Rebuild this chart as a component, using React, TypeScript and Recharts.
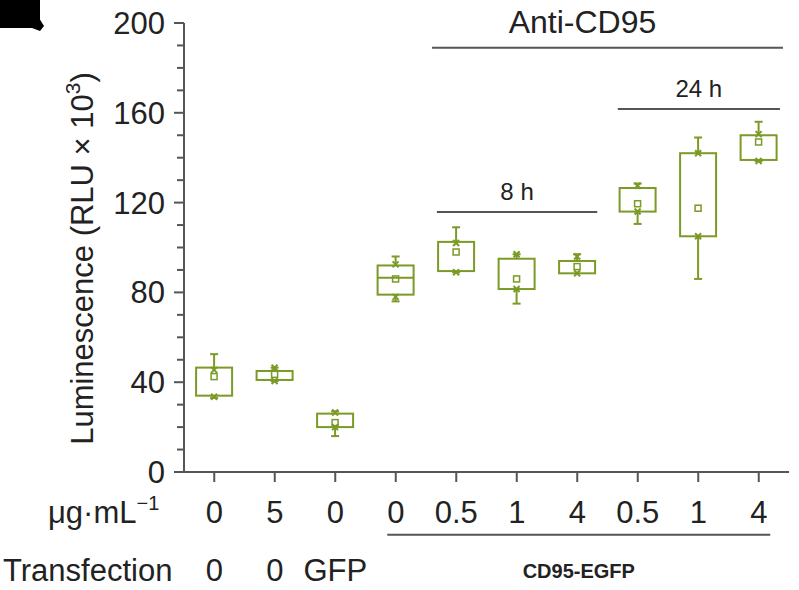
import { ComposedChart, Bar, XAxis, YAxis, ReferenceLine } from 'recharts'

const GREEN = '#7b9a26'
const AXIS = '#555555'
const INK = '#222222'
const FONT = '"Liberation Sans", Arial, Helvetica, sans-serif'

// dose per group (µg/mL) and transfection row
const doses = ['0', '5', '0', '0', '0.5', '1', '4', '0.5', '1', '4']
const transfection = ['0', '0', 'GFP', '', '', '', '', '', '', '']

// box statistics, RLU x 10^3
const whiskerLow = [33, 40.5, 16, 76, 89, 75, 88.5, 110.5, 86, 138.5]
const boxLow = [34, 41, 20, 79, 89.5, 81.5, 88.5, 116, 105, 139]
const median: (number | null)[] = [null, null, null, 86.5, null, null, null, null, null, null]
const mean = [42.5, 43.5, 22, 86, 98, 86, 91.5, 119.5, 117.5, 147]
const boxHigh = [46.5, 45, 26, 92, 102.5, 95, 94, 126.5, 142, 150]
const whiskerHigh = [52.5, 46.5, 27, 96, 109, 97, 97, 128.5, 149, 156]
const minMark = [33.5, 40.5, 20, 78, 89, 81.5, 88.5, 116, 105, 138.5]
const maxMark = [45.5, 46.5, 26.5, 92.5, 102, 97, 96, 127.5, 142, 150.5]

const yTicks = [0, 10, 20, 30, 40, 50, 60, 70, 80, 90, 100, 110, 120, 130, 140, 150, 160, 170, 180, 190, 200]

const data = doses.map((d, i) => ({
  id: `g${i}`,
  pos: i,
  dose: d,
  transfection: transfection[i],
  whiskerLow: whiskerLow[i],
  boxLow: boxLow[i],
  median: median[i],
  mean: mean[i],
  boxHigh: boxHigh[i],
  whiskerHigh: whiskerHigh[i],
  minMark: minMark[i],
  maxMark: maxMark[i],
}))

// bar runs 0..whiskerHigh, so its rect gives us the y scale
function BoxShape(props: any) {
  const { x, y, width, height, payload } = props
  if (!payload || !height) return null
  const top = payload.whiskerHigh
  const py = (v: number) => y + height * (1 - v / top)
  const cx = x + width / 2
  const bTop = py(payload.boxHigh)
  const bBot = py(payload.boxLow)
  const wTop = py(payload.whiskerHigh)
  const wBot = py(payload.whiskerLow)
  const cap = 4
  const mk = 3
  const cross = (v: number, k: string) => {
    const cy = py(v)
    return (
      <g key={k}>
        <line x1={cx - mk} x2={cx + mk} y1={cy - mk} y2={cy + mk} stroke={GREEN} strokeWidth={2} />
        <line x1={cx - mk} x2={cx + mk} y1={cy + mk} y2={cy - mk} stroke={GREEN} strokeWidth={2} />
      </g>
    )
  }
  return (
    <g>
      <rect x={x} y={bTop} width={width} height={bBot - bTop} fill="none" stroke={GREEN} strokeWidth={2} />
      {wTop < bTop - 1 && (
        <g>
          <line x1={cx} x2={cx} y1={wTop} y2={bTop} stroke={GREEN} strokeWidth={2} />
          <line x1={cx - cap} x2={cx + cap} y1={wTop} y2={wTop} stroke={GREEN} strokeWidth={2} />
        </g>
      )}
      {wBot > bBot + 1 && (
        <g>
          <line x1={cx} x2={cx} y1={bBot} y2={wBot} stroke={GREEN} strokeWidth={2} />
          <line x1={cx - cap} x2={cx + cap} y1={wBot} y2={wBot} stroke={GREEN} strokeWidth={2} />
        </g>
      )}
      {payload.median != null && (
        <line x1={x} x2={x + width} y1={py(payload.median)} y2={py(payload.median)} stroke={GREEN} strokeWidth={2} />
      )}
      <rect x={cx - 3} y={py(payload.mean) - 3} width={6} height={6} fill="none" stroke={GREEN} strokeWidth={1.5} />
      {cross(payload.maxMark, 'max')}
      {cross(payload.minMark, 'min')}
    </g>
  )
}

function XTick(props: any) {
  const { x, y, payload } = props
  const row = data.find((d) => d.id === payload.value)
  if (!row) return null
  return (
    <g>
      <line x1={x} x2={x} y1={y} y2={y + 10} stroke={AXIS} strokeWidth={2} />
      <text x={x} y={y + 51} textAnchor="middle" fontSize={31} fill={INK}>{row.dose}</text>
      {row.transfection && (
        <text x={x} y={y + 109} textAnchor="middle" fontSize={31} fill={INK}>{row.transfection}</text>
      )}
    </g>
  )
}

function YTick(props: any) {
  const { x, y, payload } = props
  const v = payload.value
  const major = v % 40 === 0
  return (
    <g>
      <line x1={x - (major ? 10 : 7)} x2={x} y1={y} y2={y} stroke={AXIS} strokeWidth={2} />
      {major && (
        <text x={x - 19} y={y + 11} textAnchor="end" fontSize={31} fill={INK}>{v}</text>
      )}
    </g>
  )
}

function YLabel(props: any) {
  const vb = props.viewBox || { x: 0, y: 23, width: 184, height: 449 }
  const cx = vb.x + 93
  const cy = vb.y + vb.height / 2 + 11
  return (
    <text x={cx} y={cy} transform={`rotate(-90, ${cx}, ${cy})`} textAnchor="middle" fontSize={31} fill={INK}>
      Luminescence (RLU × 10<tspan dy={-13} fontSize={21}>3</tspan><tspan dy={13}>)</tspan>
    </text>
  )
}

export default function App() {
  return (
    <div style={{ position: 'absolute', left: 0, top: 0, width: 799, height: 590, fontFamily: FONT, background: '#fff' }}>
      <ComposedChart
        width={799}
        height={590}
        data={data}
        margin={{ top: 23, right: 10, bottom: 88, left: 0 }}
        barCategoryGap="20%"
      >
        <XAxis
          xAxisId="c"
          dataKey="id"
          type="category"
          height={30}
          interval={0}
          tickSize={0}
          tickMargin={0}
          tickLine={false}
          axisLine={{ stroke: AXIS, strokeWidth: 2 }}
          tick={XTick}
        />
        <XAxis xAxisId="n" dataKey="pos" type="number" domain={[-0.5, 9.5]} allowDataOverflow hide />
        <YAxis
          width={184}
          domain={[0, 200]}
          ticks={yTicks}
          interval={0}
          allowDataOverflow
          tickSize={0}
          tickMargin={0}
          tickLine={false}
          axisLine={{ stroke: AXIS, strokeWidth: 2 }}
          tick={YTick}
          label={YLabel}
        />
        <Bar xAxisId="c" dataKey="whiskerHigh" shape={BoxShape} isAnimationActive={false} />
        <ReferenceLine
          xAxisId="n"
          ifOverflow="visible"
          segment={[{ x: 3.6, y: 189 }, { x: 9.4, y: 189 }]}
          stroke={AXIS}
          strokeWidth={2}
          label={{ value: 'Anti-CD95', position: 'top', offset: 15, dx: -25, fontSize: 32, fill: INK }}
        />
        <ReferenceLine
          xAxisId="n"
          ifOverflow="visible"
          segment={[{ x: 6.67, y: 161.7 }, { x: 9.35, y: 161.7 }]}
          stroke={AXIS}
          strokeWidth={2}
          label={{ value: '24 h', position: 'top', offset: 12, fontSize: 24, fill: INK }}
        />
        <ReferenceLine
          xAxisId="n"
          ifOverflow="visible"
          segment={[{ x: 3.68, y: 115.8 }, { x: 6.33, y: 115.8 }]}
          stroke={AXIS}
          strokeWidth={2}
          label={{ value: '8 h', position: 'top', offset: 12, fontSize: 24, fill: INK }}
        />
        <ReferenceLine
          xAxisId="n"
          ifOverflow="visible"
          segment={[{ x: 2.86, y: -28 }, { x: 9.19, y: -28 }]}
          stroke={AXIS}
          strokeWidth={2}
          label={{ value: 'CD95-EGFP', position: 'bottom', offset: 29, fontSize: 20, fontWeight: 'bold', fill: INK }}
        />
      </ComposedChart>
      <svg width={799} height={590} style={{ position: 'absolute', left: 0, top: 0, pointerEvents: 'none' }}>
        <rect x={0} y={0} width={40} height={28} fill="#000" />
        <polygon points="34,10 44,26 40,31 32,28" fill="#000" />
        <text x={48} y={523} fontSize={31} fill={INK}>
          μg·mL<tspan dy={-13} fontSize={20}>−1</tspan>
        </text>
        <text x={3} y={581} fontSize={31} fill={INK}>Transfection</text>
      </svg>
    </div>
  )
}
